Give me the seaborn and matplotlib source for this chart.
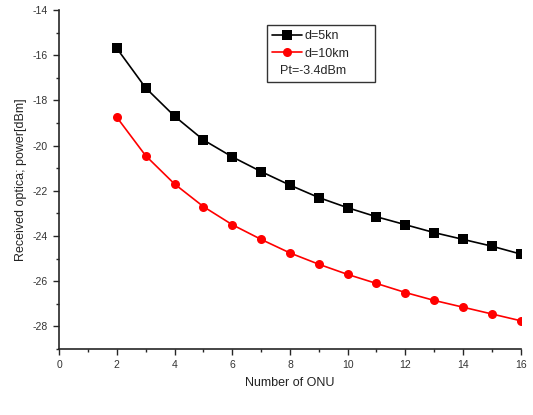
import numpy as np
import pandas as pd
import matplotlib
matplotlib.use("Agg")
import matplotlib.pyplot as plt
import seaborn as sns
from matplotlib.lines import Line2D
from matplotlib.ticker import MultipleLocator

# Data
onu = [2, 3, 4, 5, 6, 7, 8, 9, 10, 11, 12, 13, 14, 15, 16]
power_5km = [-15.7, -17.45, -18.7, -19.75, -20.5, -21.15, -21.75, -22.3, -22.75,
             -23.15, -23.5, -23.85, -24.15, -24.45, -24.8]
power_10km = [-18.75, -20.45, -21.7, -22.7, -23.5, -24.15, -24.75, -25.25, -25.7,
              -26.1, -26.5, -26.85, -27.15, -27.45, -27.75]

df = pd.DataFrame({
    "onu": onu * 2,
    "power": power_5km + power_10km,
    "dist": ["d=5kn"] * len(onu) + ["d=10km"] * len(onu),
})

sns.set_style("ticks")
plt.rcParams['font.family'] = ['Liberation Sans', 'DejaVu Sans']
plt.rcParams['axes.unicode_minus'] = False

fig = plt.figure(figsize=(5.33, 4.15), dpi=100)
ax = fig.add_axes([0.111, 0.159, 0.866, 0.817])

sns.lineplot(data=df, x="onu", y="power", hue="dist", style="dist",
             palette={"d=5kn": "black", "d=10km": "#ff0000"},
             markers={"d=5kn": "s", "d=10km": "o"}, dashes=False,
             markersize=6.5, markeredgewidth=0, linewidth=1.2,
             legend=False, ax=ax)

ax.set_xlim(0, 16)
ax.set_ylim(-29, -14)
ax.xaxis.set_major_locator(MultipleLocator(2))
ax.xaxis.set_minor_locator(MultipleLocator(1))
ax.yaxis.set_minor_locator(MultipleLocator(1))
ax.set_yticks(np.arange(-28, -13, 2))
ax.tick_params(axis="both", which="major", length=4, width=1, labelsize=7.5, pad=4)
ax.tick_params(axis="both", which="minor", length=2.5, width=1)
ax.tick_params(axis="both", labelcolor="#333333")

for s in ["top", "right"]:
    ax.spines[s].set_visible(False)
for s in ["left", "bottom"]:
    ax.spines[s].set_linewidth(1.2)

ax.set_xlabel("Number of ONU", fontsize=9, color="#222222", labelpad=5)
ax.set_ylabel("Received optica; power[dBm]", fontsize=9, color="#222222", labelpad=4)

handles = [
    Line2D([], [], color="black", marker="s", markersize=6.5, markeredgewidth=0, lw=1.2),
    Line2D([], [], color="#ff0000", marker="o", markersize=6.5, markeredgewidth=0, lw=1.2),
    Line2D([], [], color="none"),
]
leg = ax.legend(handles, ["d=5kn", "d=10km", "Pt=-3.4dBm"], loc="upper left",
                bbox_to_anchor=(0.45, 0.955), frameon=True, fancybox=False,
                edgecolor="black", fontsize=9, handlelength=2.4, handletextpad=0.2,
                borderpad=0.4, labelspacing=0.45, borderaxespad=0)
leg.get_frame().set_linewidth(1.0)
leg.get_texts()[2].set_position((-24, 0))

fig.savefig("out.png", dpi=100)
